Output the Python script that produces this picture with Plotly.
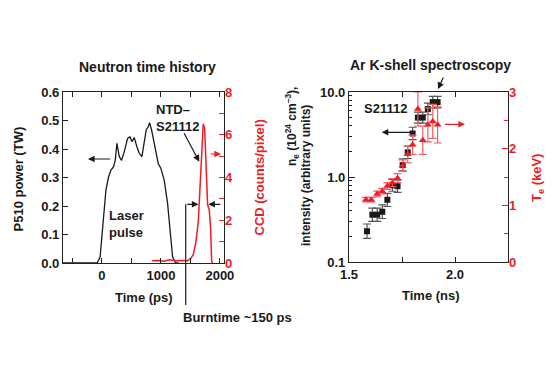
import plotly.graph_objects as go

# page body has an 8px margin; the figure is sized to fit the 560x373 window exactly
W0, H0 = 560, 373
OFF = 8
W, H = W0 - OFF, H0 - OFF

# ---------------- data: left panel ----------------
laser_t = [-660, -80, -30, 28, 68, 110, 153, 198, 226, 254, 294, 333, 378, 435, 475, 508,
           548, 593, 633, 678, 717, 751, 785, 808, 842, 887, 954, 1000, 1056, 1113, 1158,
           1198, 1250, 1300]
laser_p = [0, 0, 0.022, 0.174, 0.256, 0.30, 0.326, 0.338, 0.361, 0.42, 0.373, 0.36, 0.39,
           0.437, 0.443, 0.426, 0.44, 0.408, 0.385, 0.373, 0.42, 0.467, 0.478, 0.492, 0.467,
           0.414, 0.35, 0.332, 0.291, 0.21, 0.104, 0.022, 0, 0]

ccd_t = [850, 950, 1050, 1150, 1250, 1350, 1440, 1505, 1550, 1595, 1634, 1662, 1691, 1718,
         1742, 1764, 1792, 1820, 1843, 1860, 1875]
ccd_v = [0.1, 0.12, 0.08, 0.15, 0.1, 0.12, 0.1, 0.2, 0.4, 1.0, 1.94, 3.35, 4.75, 6.5,
         6.3, 4.44, 2.72, 2.49, 1.64, 0.1, 0.0]

left_x_ticks = [-500, 0, 500, 1000, 1500, 2000]
left_x_text = ["", "0", "", "1000", "", "2000"]
left_y_ticks = [0.0, 0.1, 0.2, 0.3, 0.4, 0.5, 0.6]
ccd_ticks = [0, 1, 2, 3, 4, 5, 6, 7, 8]
ccd_text = ["0", "", "2", "", "4", "", "6", "", "8"]

# ---------------- data: right panel ----------------
ne_t = [1.585, 1.610, 1.633, 1.657, 1.681, 1.705, 1.729, 1.753, 1.777, 1.800, 1.825,
        1.848, 1.872, 1.895, 1.918]
ne_v = [0.23, 0.36, 0.36, 0.39, 0.54, 0.80, 0.78, 1.38, 1.95, 3.25, 5.0, 5.0, 6.3, 7.6, 7.6]
ne_err_up = [0.05, 0.07, 0.07, 0.08, 0.10, 0.14, 0.14, 0.25, 0.35, 0.6, 0.8, 0.8, 1.1, 1.3, 1.3]
ne_err_dn = [0.04, 0.06, 0.06, 0.065, 0.09, 0.12, 0.12, 0.2, 0.3, 0.5, 0.7, 0.7, 0.9, 1.1, 1.1]

te_t = [1.580, 1.605, 1.633, 1.657, 1.681, 1.705, 1.729, 1.753, 1.777, 1.800, 1.825,
        1.848, 1.872, 1.895, 1.918]
te_v = [1.10, 1.10, 1.20, 1.25, 1.34, 1.40, 1.48, 1.70, 1.90, 2.07, 2.70, 2.15, 2.42, 2.48, 2.42]
te_err = [0.04, 0.04, 0.05, 0.05, 0.06, 0.07, 0.08, 0.10, 0.15, 0.17, 0.30, 0.25, 0.30, 0.30, 0.32]

right_x_ticks = [1.5, 1.75, 2.0, 2.25]
right_x_text = ["1.5", "", "2.0", ""]
log_ticks = [0.1, 1, 10]
log_text = ["0.1", "1.0", "10.0"]
log_minor = [0.2, 0.3, 0.4, 0.5, 0.6, 0.7, 0.8, 0.9, 2, 3, 4, 5, 6, 7, 8, 9]
te_ticks = [0, 1, 2, 3]
te_minor = [0.5, 1.5, 2.5]

RED = "#ee1c25"
BLACK = "#1a1a1a"
FONT = "Liberation Sans"


def px(x):
    return (x - OFF) / W


def py(y):
    return 1 - (y - OFF) / H


fig = go.Figure()

fig.add_trace(go.Scatter(x=laser_t, y=laser_p, mode="lines",
                         line=dict(color=BLACK, width=1.3), xaxis="x", yaxis="y",
                         showlegend=False))
fig.add_trace(go.Scatter(x=ccd_t, y=ccd_v, mode="lines",
                         line=dict(color=RED, width=1.5), xaxis="x", yaxis="y2",
                         showlegend=False))

fig.add_trace(go.Scatter(x=te_t, y=te_v, mode="markers",
                         marker=dict(symbol="triangle-up", size=7, color=RED),
                         error_y=dict(type="data", array=te_err, color="#f26060",
                                      thickness=1.2, width=4),
                         xaxis="x2", yaxis="y4", showlegend=False))
fig.add_trace(go.Scatter(x=ne_t, y=ne_v, mode="markers",
                         marker=dict(symbol="square", size=6, color=BLACK),
                         error_y=dict(type="data", array=ne_err_up, arrayminus=ne_err_dn,
                                      color="#555555", thickness=1.2, width=4),
                         xaxis="x2", yaxis="y3", showlegend=False))

axis_common = dict(showline=True, linecolor="#222222", linewidth=1.2, showgrid=False,
                   zeroline=False, ticks="inside", tickwidth=1, automargin=False)

fig.update_layout(
    template="none",
    width=W, height=H, autosize=False,
    margin=dict(l=0, r=0, t=0, b=0, autoexpand=False),
    paper_bgcolor="white", plot_bgcolor="white",
    font=dict(family=FONT, size=13, color=BLACK, weight="bold"),
    xaxis=dict(domain=[px(63), px(224)], range=[-660, 2070], tickvals=left_x_ticks,
               ticktext=left_x_text, mirror="ticks", anchor="y", tickcolor="#222222",
               ticklen=5, **axis_common),
    yaxis=dict(domain=[py(263), py(92)], range=[0, 0.6], tickvals=left_y_ticks,
               tickformat=".1f", mirror=True, anchor="x", tickcolor="#222222",
               ticklen=5, **axis_common),
    yaxis2=dict(overlaying="y", side="right", anchor="x", range=[0, 8],
                tickvals=ccd_ticks, ticktext=ccd_text, showline=False, showgrid=False,
                zeroline=False, ticks="inside", ticklen=5, tickcolor=RED,
                tickfont=dict(color=RED), automargin=False),
    xaxis2=dict(domain=[px(349), px(508)], range=[1.5, 2.25], tickvals=right_x_ticks,
                ticktext=right_x_text, mirror="ticks", anchor="y3", tickcolor="#222222",
                ticklen=5, **axis_common),
    yaxis3=dict(domain=[py(262), py(92)], type="log", range=[-1, 1], tickvals=log_ticks,
                ticktext=log_text, mirror=True, anchor="x2", tickcolor="#222222",
                minor=dict(tickvals=log_minor, ticks="inside", ticklen=3,
                           tickcolor="#222222"),
                ticklen=6, **axis_common),
    yaxis4=dict(overlaying="y3", side="right", anchor="x2", range=[0, 3],
                tickvals=te_ticks, showline=False, showgrid=False, zeroline=False,
                ticks="inside", ticklen=6, tickcolor=RED, tickfont=dict(color=RED),
                automargin=False,
                minor=dict(tickvals=te_minor, ticks="inside", ticklen=4, tickcolor=RED)),
)

annotations = []


def text(x, y, s, color=BLACK, size=13, angle=0, xanchor="center", align="center"):
    annotations.append(dict(x=px(x), y=py(y), xref="paper", yref="paper", text=s,
                            showarrow=False, textangle=angle, xanchor=xanchor,
                            yanchor="middle", align=align,
                            font=dict(color=color, size=size)))


def arrow(x0, y0, x1, y1, color=BLACK):
    # tail (x0, y0) -> head (x1, y1), in pixels
    annotations.append(dict(x=px(x1), y=py(y1), xref="paper", yref="paper", text="",
                            showarrow=True, ax=x0 - x1, ay=y0 - y1, axref="pixel",
                            ayref="pixel", arrowhead=2, arrowsize=1.1, arrowwidth=1.2,
                            arrowcolor=color, standoff=0, startstandoff=0))


# titles
text(147, 67, "Neutron time history", size=14)
text(430, 65, "Ar K-shell spectroscopy", size=14)
# axis titles
text(144, 297, "Time (ps)")
text(431, 295, "Time (ns)")
text(17.5, 179, "P510 power (TW)", angle=-90)
text(258.5, 178, "CCD (counts/pixel)", color=RED, angle=-90)
text(292, 127, "n<sub>e</sub> (10<sup>24</sup> cm<sup>–3</sup>),", angle=-90, size=12)
text(306, 176, "intensity (arbitrary units)", angle=-90, size=12)
text(537, 178, "T<sub>e</sub> (keV)", color=RED, angle=-90)
# in-plot labels
text(107, 224, "Laser<br>pulse", xanchor="left", align="left")
text(154, 118, "NTD–<br>S21112", xanchor="left", align="left")
text(181, 317, "Burntime ~150 ps", xanchor="left", align="left")
text(362, 109, "S21112", xanchor="left", align="left")

# arrows
arrow(111.7, 159, 88, 159)
arrow(209, 154, 221, 154, color=RED)
arrow(183.3, 131.7, 199.3, 161.7)
arrow(185.7, 204.3, 198.5, 204.3)
arrow(221.7, 204.3, 208.3, 204.3)
arrow(411.7, 132.3, 381.7, 132.3)
arrow(443.3, 124.3, 465, 124.3, color=RED)
arrow(444, 76, 438, 89)

fig.update_layout(annotations=annotations)

fig.add_shape(type="line", xref="paper", yref="paper", x0=px(185.7), x1=px(185.7),
              y0=py(204.3), y1=py(305), line=dict(color=BLACK, width=1.2))

fig.write_html("out.html")
